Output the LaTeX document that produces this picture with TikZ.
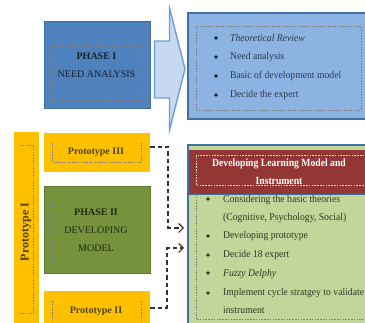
\documentclass[tikz,border=0pt]{standalone}
\usepackage{fontspec}
\setmainfont{Liberation Serif}
\newfontfamily\narrowf[FakeStretch=0.94]{Liberation Serif}
\newfontfamily\headf[FakeStretch=0.88]{Liberation Serif}
\usetikzlibrary{arrows.meta}
\definecolor{blueA}{HTML}{4F81BD}
\definecolor{blueB}{HTML}{8DB3E2}
\definecolor{blueE}{HTML}{44709F}
\definecolor{arrowF}{HTML}{C6D9F0}
\definecolor{arrowL}{HTML}{6D9EDB}
\definecolor{amber}{HTML}{FFC000}
\definecolor{greenA}{HTML}{76923C}
\definecolor{greenE}{HTML}{5F7A35}
\definecolor{greenB}{HTML}{C2D69B}
\definecolor{redA}{HTML}{943634}
\definecolor{inkA}{HTML}{14202F}
\definecolor{inkG}{HTML}{2C3A20}
\definecolor{inkT}{HTML}{1E2A12}
\definecolor{inkB}{HTML}{2A3A50}
\definecolor{inkY}{HTML}{4F4518}
\tikzset{
  x=1pt,y=-1pt,
  boxa/.style={draw=blueE,line width=1pt,fill=blueA},
  boxb/.style={draw=blueE,line width=1.4pt,fill=blueB},
  boxc/.style={fill=amber},
  boxd/.style={draw=greenE,line width=1pt,fill=greenA},
  boxe/.style={draw=blueE,line width=1.4pt,fill=greenB},
  boxf/.style={fill=redA},
  inner/.style={draw=black!50,line width=.5pt,dash pattern=on 1.6pt off 1.2pt},
  innerw/.style={draw=white!85!black,line width=.5pt,dash pattern=on 1.6pt off 1.2pt},
  ttl/.style={font=\fontsize{10}{18}\selectfont,align=center,inner sep=0pt,text=inkA},
  itm/.style={font=\narrowf\fontsize{10.3}{12}\selectfont,anchor=west,inner sep=0pt},
  bul/.style={circle,fill=#1,inner sep=0pt,minimum size=3.6pt},
  link/.style={draw=black!80,line width=1.1pt,dash pattern=on 4.5pt off 3pt},
  tip/.style={-{Straight Barb[length=4.5pt,width=9pt,line width=1.1pt]}}
}
\begin{document}
\begin{tikzpicture}
\useasboundingbox (0,0) rectangle (365,323);
\clip (0,0) rectangle (365,323);
% phase I
\fill[boxa] (44,22) rectangle (150,109);
\draw[inner] (52,46) rectangle (141,100);
\node[ttl] (ph1) at (96.5,65) {\textbf{PHASE I}\\NEED ANALYSIS};
% block arrow
\draw[fill=arrowF,draw=arrowL,line width=1.4pt,line join=miter]
  (154.5,41) -- (169.5,41) -- (169.5,8) -- (185,69) -- (169.5,130) -- (169.5,98) -- (154.5,98) -- cycle;
% theory box
\fill[boxb] (188,13) rectangle (372,119);
\draw[inner] (196,26) rectangle (361,110);
\foreach \n/\y/\t in {a/38/\textit{Theoretical Review},b/57/Need analysis,c/76/Basic of development model,d/95/Decide the expert}{
  \node[bul=inkA] (bu\n) at (216,\y) {};
  \node[itm,text=inkB] (it\n) at (230,\y) {\t};
}
% prototype I
\fill[boxc] (14,132) rectangle (39,330);
\draw[inner] (20,145) -- (33,145) -- (33,313) -- (20,313);
\node[font=\fontsize{12}{12}\bfseries\selectfont,text=inkY,rotate=90,inner sep=0pt] (pt1) at (26,232) {Prototype I};
% prototype III
\fill[boxc] (44,133) rectangle (150,172);
\draw[inner] (52,143) -- (52,162) -- (141,162) -- (141,143);
\node[font=\fontsize{10}{12}\bfseries\selectfont,text=inkY,inner sep=0pt] (pt3) at (96,152) {Prototype III};
% phase II
\fill[boxd] (44,187) rectangle (150,274);
\draw[inner] (52,203) rectangle (141,265);
\node[ttl,text=inkT] (ph2) at (96,230) {\textbf{PHASE II}\\DEVELOPING\\MODEL};
% prototype II
\fill[boxc] (44,291) rectangle (150,330);
\draw[inner] (52,301) -- (52,325) (141,301) -- (141,325);
\node[font=\fontsize{10}{12}\bfseries\selectfont,text=inkY,inner sep=0pt] (pt2) at (96,311) {Prototype II};
% lower right
\fill[boxe] (188,145) rectangle (372,330);
\fill[boxf] (188.7,150) rectangle (372,194);
\draw[blueE,line width=.8pt] (188,194) -- (372,194);
\draw[innerw] (196,155) rectangle (365,185);
\draw[inner] (196,194) -- (196,319) -- (372,319);
\node[font=\headf\fontsize{11}{18}\bfseries\selectfont,text=white,align=center,inner sep=0pt] (hd) at (279,172) {Developing Learning Model and\\Instrument};
\foreach \n/\y in {e/199,f/236,g/255,h/273,i/293}{
  \node[bul=inkG] (bu\n) at (208,\y) {};
}
\node[itm,text=inkG] (ite1) at (223,200) {Considering the basic theories};
\node[itm,text=inkG] (ite2) at (223,218) {(Cognitive, Psychology, Social)};
\node[itm,text=inkG] (itf) at (223,236) {Developing prototype};
\node[itm,text=inkG] (itg) at (223,255) {Decide 18 expert};
\node[itm,text=inkG] (ith) at (223,274) {\textit{Fuzzy Delphy}};
\node[itm,text=inkG] (iti1) at (223,293) {Implement cycle stratgey to validate};
\node[itm,text=inkG] (iti2) at (223,310) {instrument};
% connectors
\coordinate (p3out) at (150,147);
\coordinate (p2out) at (150,308);
\coordinate (in1) at (184,228);
\coordinate (in2) at (184,248);
\draw[link,tip] (p3out) -- (168,147) -- (168,228) -- (in1);
\draw[link,tip] (p2out) -- (167,308) -- (167,248) -- (in2);
\end{tikzpicture}
\end{document}
